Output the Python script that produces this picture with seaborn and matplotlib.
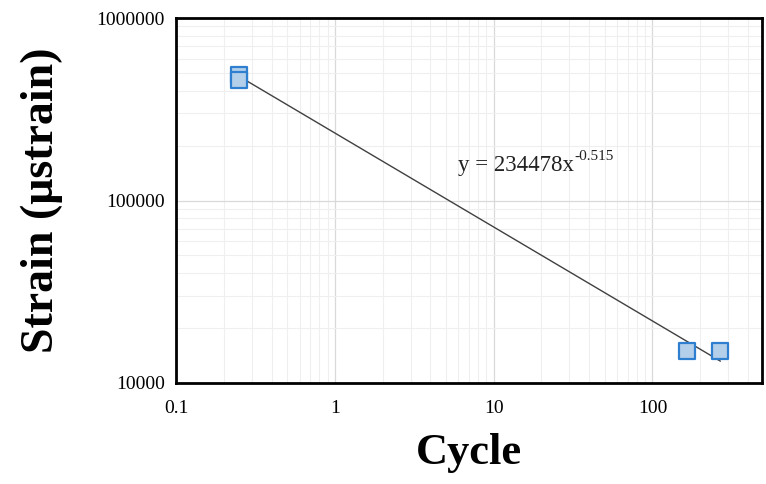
import numpy as np
import pandas as pd
import seaborn as sns
import matplotlib.pyplot as plt
from matplotlib.ticker import FixedLocator, FixedFormatter, LogLocator, NullFormatter

# ---- dados
cycle = [0.25, 0.25, 164, 268]
strain = [490000, 455000, 15000, 15000]
coef_a = 234478
coef_b = -0.515
x_ticks = [0.1, 1, 10, 100]
x_labels = ['0.1', '1', '10', '100']
y_ticks = [10000, 100000, 1000000]
y_labels = ['10000', '100000', '1000000']

sns.set_style('white')
plt.rcParams['font.family'] = ['Liberation Serif', 'DejaVu Serif']
plt.rcParams['text.color'] = 'black'
plt.rcParams['axes.labelcolor'] = 'black'
plt.rcParams['xtick.color'] = 'black'
plt.rcParams['ytick.color'] = 'black'

df = pd.DataFrame({'Cycle': cycle, 'Strain': strain})

# linha de tendência (potência)
x_fit = np.array([min(cycle), max(cycle)])
df_fit = pd.DataFrame({'Cycle': x_fit, 'Strain': coef_a * x_fit ** coef_b})

fig = plt.figure(figsize=(7.66, 4.84), dpi=100)
ax = fig.add_axes([0.2298, 0.2087, 0.765, 0.754])
ax.set_xscale('log')
ax.set_yscale('log')

sns.lineplot(data=df_fit, x='Cycle', y='Strain', color='#404040', linewidth=1, ax=ax)
sns.scatterplot(data=df, x='Cycle', y='Strain', marker='s', s=130,
                color='#b4cfea', edgecolor='#2f7fd0', linewidth=1.6, ax=ax, zorder=5)

ax.set_xlim(0.1, 490)
ax.set_ylim(10000, 1000000)

ax.xaxis.set_major_locator(FixedLocator(x_ticks))
ax.xaxis.set_major_formatter(FixedFormatter(x_labels))
ax.xaxis.set_minor_locator(LogLocator(base=10, subs=np.arange(2, 10)))
ax.xaxis.set_minor_formatter(NullFormatter())
ax.yaxis.set_major_locator(FixedLocator(y_ticks))
ax.yaxis.set_major_formatter(FixedFormatter(y_labels))
ax.yaxis.set_minor_locator(LogLocator(base=10, subs=np.arange(2, 10)))
ax.yaxis.set_minor_formatter(NullFormatter())

ax.grid(which='major', color='#d9d9d9', linewidth=0.9)
ax.grid(which='minor', color='#efefef', linewidth=0.8)
ax.set_axisbelow(True)

for s in ax.spines.values():
    s.set_color('black')
    s.set_linewidth(2)

ax.tick_params(axis='x', which='major', direction='inout', length=8, width=1,
               labelsize=14, pad=8)
ax.tick_params(axis='x', which='minor', direction='in', length=4, width=0.8)
ax.tick_params(axis='y', which='both', length=0, labelsize=14, pad=8)

ax.set_xlabel('Cycle', fontsize=32, fontweight='bold', labelpad=12)
ax.set_ylabel('Strain (μstrain)', fontsize=33, fontweight='bold', labelpad=24)

# equação da tendência com expoente sobrescrito
eq = ax.text(6.0, 145000, 'y = 234478x', fontsize=16.5, color='#222222')
ax.annotate('-0.515', xy=(1, 0.6), xycoords=eq, fontsize=11, va='bottom', color='#222222')

fig.savefig('out.png', dpi=100)
